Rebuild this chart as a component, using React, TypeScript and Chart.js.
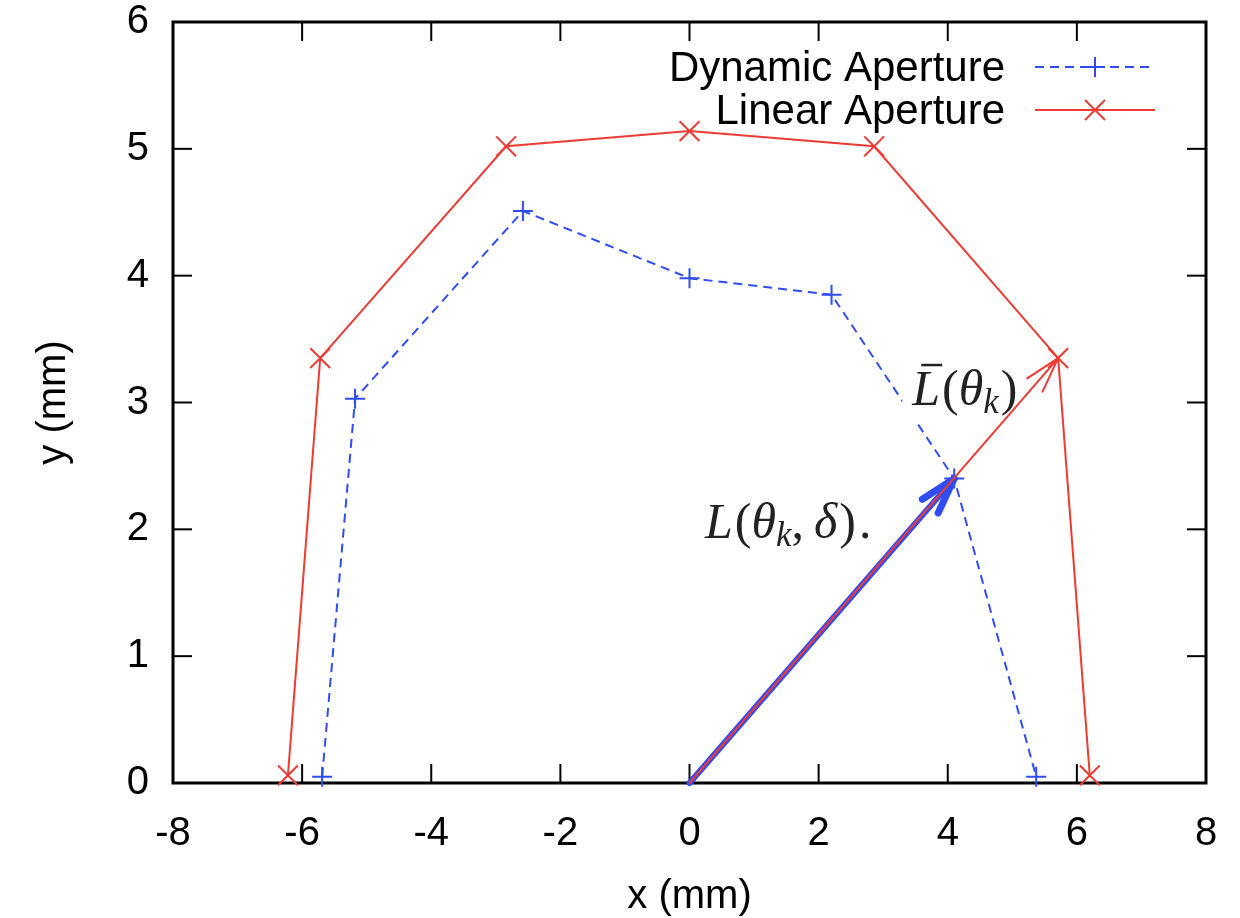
import React, { useEffect, useRef } from 'react';
import { Chart, registerables } from 'chart.js';

Chart.register(...registerables);

// ---- data ----
const dynamicX = [-5.69, -5.18, -2.58, 0.0, 2.2, 4.1, 5.37];
const dynamicY = [0.05, 3.03, 4.51, 3.98, 3.85, 2.4, 0.05];
const linearX = [-6.22, -5.72, -2.84, 0.0, 2.86, 5.71, 6.2];
const linearY = [0.06, 3.35, 5.02, 5.14, 5.02, 3.35, 0.06];
const seriesNames = ['Dynamic Aperture', 'Linear Aperture'];
const xTicks = [-8, -6, -4, -2, 0, 2, 4, 6, 8];
const yTicks = [0, 1, 2, 3, 4, 5, 6];
const xTitle = 'x (mm)';
const yTitle = 'y (mm)';
// arrows: [x0, y0, x1, y1]
const arrowDynamic = [0, 0, 4.1, 2.4];
const arrowLinear = [0, 0, 5.71, 3.35];
// annotation anchors (data coords)
const labelBarAnchor = [3.45, 2.98];
const labelDeltaAnchor = [0.24, 1.93];

const BLUE = '#2f4cf5';
const RED = '#ee3b34';
const SANS = '"Liberation Sans", Arial, Helvetica, sans-serif';
const SERIF = '"Liberation Serif", "Times New Roman", serif';

function line(ctx: CanvasRenderingContext2D, x0: number, y0: number, x1: number, y1: number) {
  ctx.beginPath();
  ctx.moveTo(x0, y0);
  ctx.lineTo(x1, y1);
  ctx.stroke();
}

function drawArrow(ctx: CanvasRenderingContext2D, x0: number, y0: number, x1: number, y1: number,
  color: string, width: number, headWidth: number, headLen: number, headAng: number) {
  ctx.save();
  ctx.strokeStyle = color;
  ctx.lineCap = 'round';
  ctx.lineWidth = width;
  line(ctx, x0, y0, x1, y1);
  const ang = Math.atan2(y0 - y1, x0 - x1);
  ctx.lineWidth = headWidth;
  for (const s of [-1, 1]) {
    const a = ang + s * headAng;
    line(ctx, x1, y1, x1 + Math.cos(a) * headLen, y1 + Math.sin(a) * headLen);
  }
  ctx.restore();
}

const framePlugin = {
  id: 'frameTicks',
  beforeDatasetsDraw(chart: any) {
    const { ctx, chartArea: a, scales } = chart;
    ctx.save();
    ctx.strokeStyle = '#000';
    ctx.lineWidth = 2;
    const tl = 19;
    for (const v of xTicks) {
      const px = scales.x.getPixelForValue(v);
      line(ctx, px, a.bottom, px, a.bottom - tl);
      line(ctx, px, a.top, px, a.top + tl);
    }
    for (const v of yTicks) {
      const py = scales.y.getPixelForValue(v);
      line(ctx, a.left, py, a.left + tl, py);
      line(ctx, a.right, py, a.right - tl, py);
    }
    ctx.lineWidth = 3;
    ctx.strokeRect(a.left, a.top, a.right - a.left, a.bottom - a.top);
    ctx.restore();
  },
};

function drawMathPieces(ctx: CanvasRenderingContext2D, x: number, y: number,
  pieces: Array<{ t: string; italic?: boolean; size?: number; dy?: number; gap?: number }>) {
  let cx = x;
  const out: number[] = [];
  for (const p of pieces) {
    const size = p.size || 50;
    ctx.font = `${p.italic ? 'italic ' : ''}${size}px ${SERIF}`;
    cx += p.gap || 0;
    out.push(cx);
    ctx.fillText(p.t, cx, y + (p.dy || 0));
    cx += ctx.measureText(p.t).width;
  }
  return { end: cx, starts: out };
}

const overlayPlugin = {
  id: 'overlay',
  afterDatasetsDraw(chart: any) {
    const { ctx, chartArea: a, scales } = chart;
    const X = (v: number) => scales.x.getPixelForValue(v);
    const Y = (v: number) => scales.y.getPixelForValue(v);
    ctx.save();

    // label  L̄(θk) with white background
    const lx = X(labelBarAnchor[0]);
    const ly = Y(labelBarAnchor[1]);
    ctx.fillStyle = '#fff';
    ctx.fillRect(lx - 10, ly - 53, 108, 72);
    ctx.fillStyle = '#222';
    ctx.textBaseline = 'alphabetic';
    ctx.textAlign = 'left';
    const r1 = drawMathPieces(ctx, lx, ly, [
      { t: 'L', italic: true },
      { t: '(', gap: 2 },
      { t: 'θ', italic: true },
      { t: 'k', italic: true, size: 35, dy: 8 },
      { t: ')', gap: 2 },
    ]);
    ctx.strokeStyle = '#222';
    ctx.lineWidth = 2.5;
    line(ctx, r1.starts[0] + 9, ly - 40, r1.starts[0] + 30, ly - 40);

    // label L(θk, δ).
    const mx = X(labelDeltaAnchor[0]);
    const my = Y(labelDeltaAnchor[1]);
    drawMathPieces(ctx, mx, my, [
      { t: 'L', italic: true },
      { t: '(', gap: 2 },
      { t: 'θ', italic: true },
      { t: 'k', italic: true, size: 35, dy: 8 },
      { t: ',' },
      { t: 'δ', italic: true, gap: 10 },
      { t: ')', gap: 2 },
      { t: '.', gap: 3 },
    ]);

    // arrows
    drawArrow(ctx, X(arrowDynamic[0]), Y(arrowDynamic[1]), X(arrowDynamic[2]), Y(arrowDynamic[3]),
      BLUE, 6, 7, 38, (16 * Math.PI) / 180);
    drawArrow(ctx, X(arrowLinear[0]), Y(arrowLinear[1]), X(arrowLinear[2]), Y(arrowLinear[3]),
      RED, 2, 2, 37, (16 * Math.PI) / 180);

    // legend
    ctx.font = `42px ${SANS}`;
    ctx.fillStyle = '#000';
    ctx.textAlign = 'right';
    ctx.textBaseline = 'middle';
    const tx = a.right - 201;
    const s0 = a.right - 171;
    const s1 = a.right - 51;
    const sm = (s0 + s1) / 2;
    const rows = [a.top + 45, a.top + 88];
    ctx.fillText(seriesNames[0], tx, rows[0] + 2);
    ctx.fillText(seriesNames[1], tx, rows[1] + 2);
    ctx.lineWidth = 2;
    ctx.strokeStyle = BLUE;
    ctx.setLineDash([9, 6]);
    line(ctx, s0, rows[0], s1, rows[0]);
    ctx.setLineDash([]);
    line(ctx, sm - 10, rows[0], sm + 10, rows[0]);
    line(ctx, sm, rows[0] - 10, sm, rows[0] + 10);
    ctx.strokeStyle = RED;
    line(ctx, s0, rows[1], s1, rows[1]);
    const d = 10;
    line(ctx, sm - d, rows[1] - d, sm + d, rows[1] + d);
    line(ctx, sm - d, rows[1] + d, sm + d, rows[1] - d);
    ctx.restore();
  },
};

export default function App() {
  const ref = useRef<HTMLCanvasElement | null>(null);
  useEffect(() => {
    if (!ref.current) return;
    const chart = new Chart(ref.current, {
      type: 'scatter',
      data: {
        datasets: [
          {
            label: seriesNames[0],
            data: dynamicX.map((x, i) => ({ x, y: dynamicY[i] })),
            showLine: true,
            borderColor: BLUE,
            backgroundColor: BLUE,
            borderWidth: 2,
            borderDash: [9, 6],
            pointStyle: 'cross',
            pointRadius: 10,
            pointBorderWidth: 2,
            clip: false as any,
          },
          {
            label: seriesNames[1],
            data: linearX.map((x, i) => ({ x, y: linearY[i] })),
            showLine: true,
            borderColor: RED,
            backgroundColor: RED,
            borderWidth: 2,
            pointStyle: 'crossRot',
            pointRadius: 14,
            pointBorderWidth: 2,
            clip: false as any,
          },
        ],
      },
      options: {
        animation: false,
        responsive: false,
        devicePixelRatio: 1,
        events: [],
        layout: { padding: { left: 0, top: 22, right: 34, bottom: 0 } },
        plugins: { legend: { display: false }, tooltip: { enabled: false } },
        scales: {
          x: {
            type: 'linear',
            min: -8,
            max: 8,
            afterBuildTicks: (s: any) => { s.ticks = xTicks.map((v) => ({ value: v })); },
            afterFit: (s: any) => { s.height = 135; s.paddingLeft = 0; s.paddingRight = 0; },
            grid: { display: false, drawTicks: false },
            border: { display: false },
            ticks: { color: '#000', font: { family: SANS, size: 40 }, padding: 27, maxRotation: 0, autoSkip: false },
            title: { display: true, text: xTitle, color: '#000', font: { family: SANS, size: 40, lineHeight: 1 }, padding: { top: 0, bottom: 1 } },
          },
          y: {
            type: 'linear',
            min: 0,
            max: 6,
            afterBuildTicks: (s: any) => { s.ticks = yTicks.map((v) => ({ value: v })); },
            afterFit: (s: any) => { s.width = 173; s.paddingTop = 0; s.paddingBottom = 0; },
            grid: { display: false, drawTicks: false },
            border: { display: false },
            ticks: { color: '#000', font: { family: SANS, size: 40 }, padding: 24, autoSkip: false },
            title: { display: true, text: yTitle, color: '#000', font: { family: SANS, size: 40, lineHeight: 1.2 }, padding: { top: 30, bottom: 0 } },
          },
        },
      },
      plugins: [framePlugin, overlayPlugin],
    });
    return () => chart.destroy();
  }, []);
  return (
    <div style={{ position: 'absolute', left: 0, top: 0, width: 1240, height: 918, background: '#fff' }}>
      <canvas ref={ref} width={1240} height={918} style={{ display: 'block', width: 1240, height: 918 }} />
    </div>
  );
}
